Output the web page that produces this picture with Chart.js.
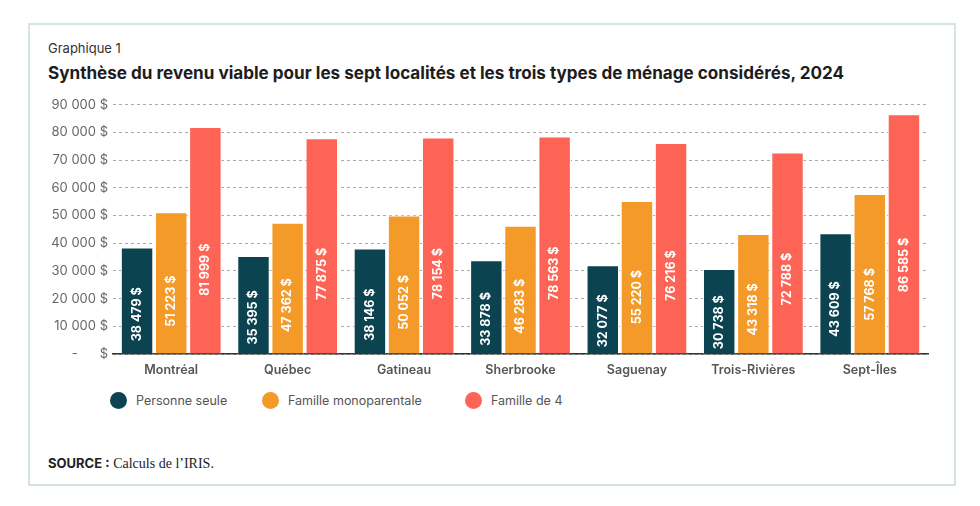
<!DOCTYPE html>
<html lang="fr">
<head>
<meta charset="utf-8">
<script src="https://cdn.jsdelivr.net/npm/chart.js@4.4.1/dist/chart.umd.min.js"></script>
<style>
  body { margin: 0; background: #fff; font-family: Inter, Roboto, sans-serif; }
  #cadre {
    position: absolute; left: 28px; top: 23px; width: 924px; height: 459px;
    border: 2px solid #d6e3e3;
  }
  #surtitre { position: absolute; left: 48px; top: 40px; font-size: 13px; color: #333; }
  #titre { position: absolute; left: 48px; top: 62px; font-size: 17.1px; font-weight: 700; color: #1d1d1d; }
  #zone { position: absolute; left: 40px; top: 92px; width: 900px; height: 287px; }
  #legende { position: absolute; left: 110px; top: 392px; font-size: 12.5px; color: #555; }
  #legende span.item { position: absolute; white-space: nowrap; display: flex; align-items: center; }
  #legende span.pastille { display: inline-block; width: 17px; height: 17px; border-radius: 50%; margin-right: 9px; }
  #source { position: absolute; left: 48px; top: 455px; font-size: 13px; color: #222; }
  #source b { font-family: Inter, Roboto, sans-serif; }
  #source span { font-family: "Liberation Serif", serif; font-size: 14px; }
</style>
</head>
<body>
<div id="cadre"></div>
<div id="surtitre">Graphique 1</div>
<div id="titre">Synthèse du revenu viable pour les sept localités et les trois types de ménage considérés, 2024</div>
<div id="zone"><canvas id="graphique"></canvas></div>
<div id="legende"></div>
<div id="source"><b>SOURCE :</b> <span>Calculs de l’IRIS.</span></div>

<script>
// Données
const localites = ['Montréal', 'Québec', 'Gatineau', 'Sherbrooke', 'Saguenay', 'Trois-Rivières', 'Sept-Îles'];
const personneSeule = [38479, 35395, 38146, 33878, 32077, 30738, 43609];
const familleMono = [51223, 47362, 50052, 46283, 55220, 43318, 57768];
const familleQuatre = [81999, 77875, 78154, 78563, 76216, 72788, 86585];
const ticksY = [0, 10000, 20000, 30000, 40000, 50000, 60000, 70000, 80000, 90000];

const series = [
    { nom: 'Personne seule', valeurs: personneSeule, couleur: '#0c4351' },
    { nom: 'Famille monoparentale', valeurs: familleMono, couleur: '#f39a28' },
    { nom: 'Famille de 4', valeurs: familleQuatre, couleur: '#fe6456' }
];

function formatMontant(v) {
    return v.toString().replace(/\B(?=(\d{3})+(?!\d))/g, ' ') + ' $';
}

// Étiquettes verticales dans les barres
const etiquettesBarres = {
    id: 'etiquettesBarres',
    afterDatasetsDraw(chart) {
        const ctx = chart.ctx;
        chart.data.datasets.forEach((ds, i) => {
            const meta = chart.getDatasetMeta(i);
            meta.data.forEach((barre, j) => {
                const haut = barre.base - barre.y;
                const yc = barre.base - haut * 0.37;
                ctx.save();
                ctx.translate(barre.x, yc);
                ctx.rotate(-Math.PI / 2);
                ctx.fillStyle = '#fff';
                ctx.font = '700 12.5px Inter, Roboto, sans-serif';
                ctx.textAlign = 'center';
                ctx.textBaseline = 'middle';
                ctx.fillText(formatMontant(ds.data[j]), 0, 0);
                ctx.restore();
            });
        });
    }
};

// Légende HTML
const positionsLegende = [0, 152, 355];
const legende = document.getElementById('legende');
series.forEach((s, i) => {
    const item = document.createElement('span');
    item.className = 'item';
    item.style.left = positionsLegende[i] + 'px';
    item.innerHTML = '<span class="pastille" style="background:' + s.couleur + '"></span>' + s.nom;
    legende.appendChild(item);
});

new Chart(document.getElementById('graphique').getContext('2d'), {
    type: 'bar',
    data: {
        labels: localites,
        datasets: series.map(s => ({
            label: s.nom,
            data: s.valeurs,
            backgroundColor: s.couleur,
            borderColor: '#ffffff',
            borderWidth: 1,
            categoryPercentage: 0.88,
            barPercentage: 0.95
        }))
    },
    options: {
        responsive: true,
        maintainAspectRatio: false,
        animation: false,
        layout: { padding: { top: 8, right: 12, left: 0, bottom: 0 } },
        plugins: {
            legend: { display: false },
            tooltip: { enabled: false }
        },
        scales: {
            y: {
                min: 0,
                max: 90000,
                afterBuildTicks: (axe) => { axe.ticks = ticksY.map(v => ({ value: v })); },
                afterFit: (axe) => { axe.width = 73; },
                grid: { color: '#a9a9a9', lineWidth: 1, drawTicks: false },
                border: { display: false, dash: [3, 3] },
                ticks: {
                    color: '#666',
                    padding: 5,
                    font: { family: 'Inter, Roboto, sans-serif', size: 13 },
                    callback: (v) => v === 0 ? '-      $' : formatMontant(v)
                }
            },
            x: {
                grid: { display: false },
                border: { display: true, color: '#333', width: 1.5 },
                ticks: {
                    color: '#555',
                    padding: 1,
                    font: { family: 'Inter, Roboto, sans-serif', size: 12.5, weight: '600' }
                }
            }
        }
    },
    plugins: [etiquettesBarres]
});
</script>
</body>
</html>
